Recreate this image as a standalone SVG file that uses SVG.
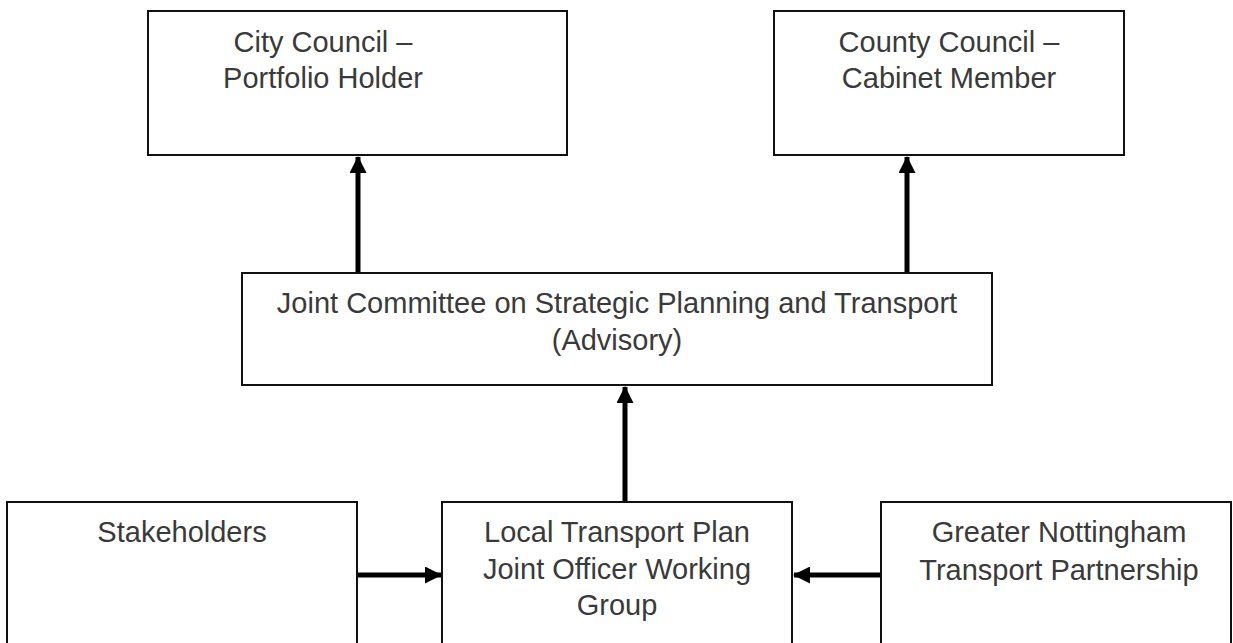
<svg xmlns="http://www.w3.org/2000/svg" width="1233" height="643" viewBox="0 0 1233 643">
  <style>
    .box { fill: #ffffff; stroke: #111111; stroke-width: 2; }
    .label { font-family: "Liberation Sans", Arial, sans-serif; font-size: 29px; fill: #3a3a3a; text-anchor: middle; }
    .link { stroke: #000000; stroke-width: 5; fill: none; marker-end: url(#head); }
  </style>
  <defs>
    <marker id="head" markerUnits="userSpaceOnUse" markerWidth="17" markerHeight="17" viewBox="0 0 17 17" refX="16" refY="8.5" orient="auto">
      <path d="M0,0 L17,8.5 L0,17 Z" fill="#000000"/>
    </marker>
  </defs>
  <rect width="1233" height="643" fill="#ffffff"/>

  <g id="city-council">
    <rect class="box" x="148" y="11" width="419" height="144"/>
    <text class="label" x="323" y="52">City Council –</text>
    <text class="label" x="323" y="88">Portfolio Holder</text>
  </g>

  <g id="county-council">
    <rect class="box" x="774" y="11" width="350" height="144"/>
    <text class="label" x="949" y="52">County Council –</text>
    <text class="label" x="949" y="88">Cabinet Member</text>
  </g>

  <g id="joint-committee">
    <rect class="box" x="242" y="273" width="750" height="112"/>
    <text class="label" x="617" y="313">Joint Committee on Strategic Planning and Transport</text>
    <text class="label" x="617" y="350">(Advisory)</text>
  </g>

  <g id="stakeholders">
    <rect class="box" x="7" y="502" width="350" height="160"/>
    <text class="label" x="182" y="542">Stakeholders</text>
  </g>

  <g id="ltp-working-group">
    <rect class="box" x="442" y="502" width="350" height="160"/>
    <text class="label" x="617" y="542">Local Transport Plan</text>
    <text class="label" x="617" y="579">Joint Officer Working</text>
    <text class="label" x="617" y="615">Group</text>
  </g>

  <g id="gntp">
    <rect class="box" x="881" y="502" width="350" height="160"/>
    <text class="label" x="1059" y="542">Greater Nottingham</text>
    <text class="label" x="1059" y="580">Transport Partnership</text>
  </g>

  <g id="connectors">
    <line class="link" x1="358" y1="272" x2="358" y2="157"/>
    <line class="link" x1="907" y1="272" x2="907" y2="157"/>
    <line class="link" x1="625" y1="501" x2="625" y2="387"/>
    <line class="link" x1="358" y1="575" x2="441" y2="575"/>
    <line class="link" x1="880" y1="575" x2="794" y2="575"/>
  </g>
</svg>
